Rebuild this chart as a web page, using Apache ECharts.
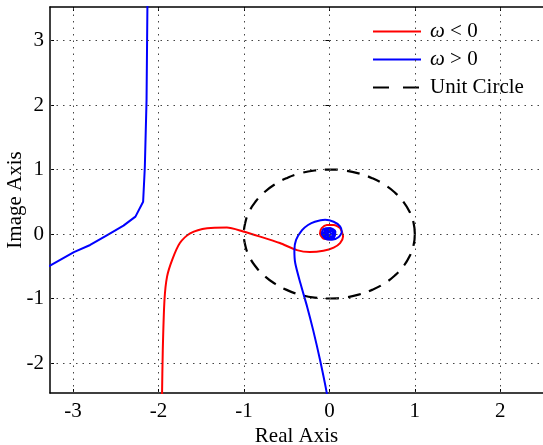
<!DOCTYPE html>
<html>
<head>
<meta charset="utf-8">
<script src="https://cdn.jsdelivr.net/npm/echarts@6/dist/echarts.min.js"></script>
<style>html,body{margin:0;padding:0;background:#fff;}#c{width:543px;height:445px;}</style>
</head>
<body>
<div id="c"></div>
<script>
// ---- data ----
var legendNames = ['ω < 0', 'ω > 0', 'Unit Circle'];
var xTicks = [-3, -2, -1, 0, 1, 2];
var yTicks = [-2, -1, 0, 1, 2, 3];

// omega < 0 (red)
var redX = [-1.96, -1.95, -1.93, -1.90, -1.84, -1.75, -1.63, -1.43, -1.20, -1.01, -0.81, -0.58, -0.38, -0.23, -0.07, 0.05, 0.125, 0.16, 0.125, 0.05, -0.03, -0.09, -0.11, -0.07, 0.01, 0.055, 0.05, 0.0, -0.04, -0.03, 0.0];
var redY = [-2.60, -1.80, -1.02, -0.66, -0.40, -0.14, 0.01, 0.09, 0.10, 0.04, -0.04, -0.14, -0.25, -0.28, -0.26, -0.21, -0.14, -0.04, 0.09, 0.14, 0.14, 0.09, 0.01, -0.07, -0.08, -0.03, 0.035, 0.06, 0.03, -0.015, -0.02];

// omega > 0 (blue), left branch
var blueAX = [-3.40, -3.27, -2.99, -2.80, -2.60, -2.41, -2.27, -2.18, -2.16, -2.14, -2.13, -2.12];
var blueAY = [-0.56, -0.49, -0.28, -0.17, -0.016, 0.13, 0.27, 0.50, 1.04, 2.08, 3.52, 4.00];

// omega > 0 (blue), lower branch spiralling to origin
var blueBX = [-0.02, -0.03, -0.11, -0.19, -0.26, -0.34, -0.40, -0.41, -0.39, -0.32, -0.25, -0.17, -0.05, 0.05, 0.125, 0.145, 0.105, 0.03, -0.05, -0.09, -0.07, 0.01, 0.07, 0.06,
  0.03, -0.035, -0.07, -0.045, 0.02, 0.06, 0.05, 0.0, -0.05, -0.05, -0.005, 0.04, 0.04, 0.0, -0.03, -0.025, 0.005, 0.02, 0.0, -0.01, 0.0];
var blueBY = [-2.60, -2.47, -1.95, -1.49, -1.13, -0.76, -0.45, -0.25, -0.09, 0.06, 0.14, 0.19, 0.22, 0.19, 0.12, 0.035, -0.05, -0.09, -0.07, 0.01, 0.075, 0.095, 0.04, -0.04,
  -0.08, -0.08, -0.01, 0.07, 0.08, 0.02, -0.045, -0.065, -0.035, 0.035, 0.06, 0.035, -0.02, -0.045, -0.015, 0.025, 0.03, 0.005, -0.015, 0.005, 0.01];

// unit circle (10 degree steps)
var circleX = [1, 0.985, 0.940, 0.866, 0.766, 0.643, 0.5, 0.342, 0.174, 0, -0.174, -0.342, -0.5, -0.643, -0.766, -0.866, -0.940, -0.985, -1, -0.985, -0.940, -0.866, -0.766, -0.643, -0.5, -0.342, -0.174, 0, 0.174, 0.342, 0.5, 0.643, 0.766, 0.866, 0.940, 0.985, 1];
var circleY = [0, 0.174, 0.342, 0.5, 0.643, 0.766, 0.866, 0.940, 0.985, 1, 0.985, 0.940, 0.866, 0.766, 0.643, 0.5, 0.342, 0.174, 0, -0.174, -0.342, -0.5, -0.643, -0.766, -0.866, -0.940, -0.985, -1, -0.985, -0.940, -0.866, -0.766, -0.643, -0.5, -0.342, -0.174, 0];

function zip(xs, ys) { return xs.map(function (x, i) { return [x, ys[i]]; }); }

var FONT = 'Liberation Serif';
var FS = 21;
var chart = echarts.init(document.getElementById('c'), null, { renderer: 'canvas' });

var tickStyle = { show: true, inside: true, length: 4, lineStyle: { color: '#000', width: 1 } };
var axisLineStyle = { show: true, onZero: false, lineStyle: { color: '#000', width: 1.5 } };

var gridMarks = xTicks.map(function (v) { return { xAxis: v }; })
  .concat(yTicks.map(function (v) { return { yAxis: v }; }));

var option = {
  animation: false,
  backgroundColor: '#fff',
  grid: { left: 50, top: 7, right: 0, bottom: 52, containLabel: false, outerBoundsMode: 'none' },
  xAxis: [{
    type: 'value', position: 'bottom', min: -3.27, max: 2.5,
    name: 'Real Axis', nameLocation: 'middle', nameGap: 33, nameMoveOverlap: false,
    nameTextStyle: { fontFamily: FONT, fontSize: FS, color: '#000' },
    axisLine: axisLineStyle,
    axisTick: Object.assign({ customValues: xTicks }, tickStyle),
    axisLabel: { customValues: xTicks, fontFamily: FONT, fontSize: FS, color: '#000', margin: 8 },
    splitLine: { show: false }
  }, {
    type: 'value', position: 'top', min: -3.27, max: 2.5,
    axisLine: axisLineStyle,
    axisTick: Object.assign({ customValues: xTicks }, tickStyle),
    axisLabel: { show: false }, splitLine: { show: false }
  }],
  yAxis: [{
    type: 'value', position: 'left', min: -2.465, max: 3.52,
    name: 'Image Axis', nameLocation: 'middle', nameGap: 24, nameRotate: 90, nameMoveOverlap: false,
    nameTextStyle: { fontFamily: FONT, fontSize: FS, color: '#000' },
    axisLine: axisLineStyle,
    axisTick: Object.assign({ customValues: yTicks }, tickStyle),
    axisLabel: { customValues: yTicks, fontFamily: FONT, fontSize: FS, color: '#000', margin: 6 },
    splitLine: { show: false }
  }, {
    type: 'value', position: 'right', min: -2.465, max: 3.52,
    axisLine: { show: false },
    axisTick: Object.assign({ customValues: yTicks }, tickStyle),
    axisLabel: { show: false }, splitLine: { show: false }
  }],
  legend: {
    data: [legendNames[0], legendNames[1], { name: legendNames[2], lineStyle: { type: [16, 14] } }],
    orient: 'vertical', left: 362, top: 15,
    backgroundColor: '#fff', padding: [6, 16, 6, 10],
    itemWidth: 48, itemHeight: 14, itemGap: 7,
    itemStyle: { opacity: 0 },
    textStyle: { fontFamily: FONT, fontSize: FS, color: '#000', padding: [0, 0, 0, 4],
      rich: { w: { fontFamily: FONT, fontSize: FS, fontStyle: 'italic', color: '#000' } } },
    formatter: function (n) { return n.charAt(0) === 'ω' ? '{w|ω}' + n.slice(1) : n; }
  },
  series: [
    { name: 'grid', type: 'line', data: [], symbol: 'none', z: 1, silent: true,
      markLine: { silent: true, symbol: ['none', 'none'], label: { show: false }, animation: false,
        lineStyle: { color: '#444', width: 1, type: [1.5, 5] }, emphasis: { disabled: true }, data: gridMarks } },
    { name: legendNames[2], type: 'line', data: zip(circleX, circleY), symbol: 'none', smooth: true,
      lineStyle: { color: '#000', width: 2.2, type: [13, 9] }, itemStyle: { color: '#000' }, z: 2 },
    { name: legendNames[0], type: 'line', data: zip(redX, redY), symbol: 'none', smooth: 0.25,
      lineStyle: { color: '#ff0000', width: 2 }, itemStyle: { color: '#ff0000' }, z: 3 },
    { name: legendNames[1], type: 'line', data: zip(blueAX, blueAY), symbol: 'none',
      lineStyle: { color: '#0000ff', width: 2 }, itemStyle: { color: '#0000ff' }, z: 4 },
    { name: legendNames[1], type: 'line', data: zip(blueBX, blueBY), symbol: 'none', smooth: 0.25,
      lineStyle: { color: '#0000ff', width: 2 }, itemStyle: { color: '#0000ff' }, z: 4 }
  ]
};
chart.setOption(option);
</script>
</body>
</html>
